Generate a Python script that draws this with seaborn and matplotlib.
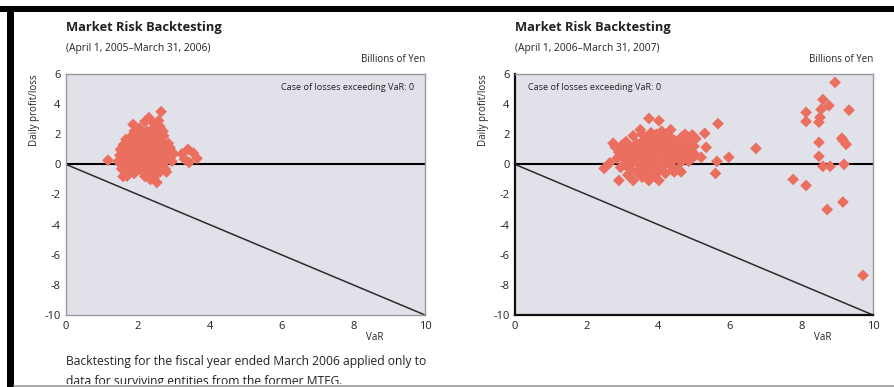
import matplotlib
matplotlib.use("Agg")
import matplotlib.pyplot as plt
from matplotlib.patches import Rectangle
from matplotlib.lines import Line2D
import pandas as pd
import seaborn as sns

# ---- FY2005 (April 1, 2005 - March 31, 2006): VaR vs. daily profit/loss ----
var_2005 = [
    1.17, 1.59, 1.70, 2.53, 2.65, 2.31, 1.87, 1.67, 3.23, 3.40, 3.65, 3.43, 3.30, 3.55,
    2.58, 2.62, 2.05, 2.20, 2.45,
    1.45, 1.50, 1.52, 1.55, 1.58, 1.60, 1.62, 1.65, 1.68, 1.70, 1.72, 1.75, 1.78, 1.80,
    1.82, 1.84, 1.86, 1.88, 1.90, 1.92, 1.94, 1.96, 1.98, 2.00, 2.00, 2.02, 2.04, 2.06,
    2.08, 2.10, 2.10, 2.12, 2.14, 2.16, 2.18, 2.20, 2.20, 2.22, 2.24, 2.26, 2.28, 2.30,
    2.30, 2.32, 2.34, 2.36, 2.38, 2.40, 2.40, 2.42, 2.44, 2.46, 2.48, 2.50, 2.50, 2.52,
    2.54, 2.56, 2.58, 2.60, 2.62, 2.64, 2.66, 2.68, 2.70, 2.72, 2.74, 2.76, 2.78, 2.80,
    2.85, 2.90, 2.95, 3.00,
    2.00, 2.10, 2.20, 2.30, 2.40, 2.20, 2.30, 2.10, 2.25, 2.35, 2.15, 2.05, 1.95, 2.45,
    2.55, 2.35, 2.15, 1.85, 1.75, 2.60, 2.70, 2.50, 2.40, 2.30, 2.20, 2.45, 1.65, 1.55,
    2.65, 2.75, 2.85, 2.80, 2.90, 2.05, 1.95, 2.50, 2.35, 2.60, 2.20, 2.40, 2.55, 2.70,
    1.90, 1.80, 1.70,
]
pl_2005 = [
    0.27, -0.80, -0.78, -1.20, 3.50, 3.10, 2.65, 1.66, 0.70, 1.00, 0.40, 0.13, 0.35, 0.75,
    2.90, 2.50, 2.40, 2.85, 2.70,
    0.2, 0.6, 1.0, -0.3, 0.4, 1.3, 0.0, 0.8, -0.5, 0.5, 1.1, 0.2, 1.6, -0.2,
    0.7, 1.9, 0.3, 1.2, -0.6, 0.9, 0.1, 1.5, 0.5, -0.1, 1.0, 2.1, 0.3, 0.7,
    1.3, -0.4, 0.0, 0.6, 1.7, 0.2, 0.9, 1.2, -0.8, 0.4, 0.8, 2.2, 0.1, 1.5,
    0.5, -0.3, 1.0, 0.3, 1.8, 0.6, -0.6, 1.3, 0.0, 0.9, 2.0, 0.4, 1.1, -0.2,
    0.7, 1.6, 0.2, 1.0, -0.5, 0.5, 1.4, 0.8, 0.1, 1.9, 0.6, -0.3, 1.2, 0.3,
    0.9, 0.5, 0.2, 0.7,
    0.5, 0.8, 0.6, 0.8, 0.9, 0.1, 0.2, 1.1, 1.4, 0.7, 0.4, 0.9, 0.6, 0.3,
    0.9, 1.2, 1.5, 0.5, 0.9, 0.6, 1.0, 1.4, 1.6, -0.1, -0.4, -0.9, 0.3, 0.9,
    0.2, 0.4, 1.4, -0.5, 1.1, 1.8, -0.4, -0.6, -1.0, 1.8, 2.0, 2.3, 2.4, 2.2,
    2.2, 1.4, 0.0,
]

# ---- FY2006 (April 1, 2006 - March 31, 2007) ----
var_2006 = [
    2.49, 2.65, 2.74, 2.80, 2.90, 3.30, 3.74, 4.02, 3.74, 4.02, 4.64, 4.94, 5.20, 5.30,
    5.34, 5.67, 5.64, 5.60, 5.97, 3.50, 4.35, 4.75, 4.95, 5.05, 4.85, 3.15, 3.55, 4.45,
    4.80,
    6.73, 8.94, 8.60, 8.77, 8.13, 8.55, 9.33, 8.13, 8.52, 8.49, 8.49, 9.13, 9.16, 9.25,
    8.49, 8.60, 8.80, 9.19, 7.77, 8.13, 9.16, 8.72, 9.72,
    3.00, 3.00, 3.05, 3.10, 3.10, 3.15, 3.20, 3.20, 3.25, 3.30, 3.30, 3.35, 3.40, 3.40,
    3.45, 3.50, 3.50, 3.55, 3.55, 3.60, 3.60, 3.65, 3.65, 3.70, 3.70, 3.75, 3.75, 3.80,
    3.80, 3.85, 3.85, 3.90, 3.90, 3.95, 3.95, 4.00, 4.00, 4.05, 4.05, 4.10, 4.10, 4.15,
    4.15, 4.20, 4.20, 4.25, 4.25, 4.30, 4.30, 4.35, 4.35, 4.40, 4.40, 4.45, 4.50, 4.50,
    4.55, 4.60, 4.60, 4.65, 4.70, 4.70, 4.75, 4.80, 4.85, 4.90, 5.00, 5.05, 2.85, 2.90,
    2.95, 3.00,
    3.60, 3.70, 3.80, 3.90, 4.00, 4.10, 4.20, 4.30, 3.50, 3.65, 3.75, 3.85, 3.95, 4.05,
    4.15, 4.25, 4.35, 4.45, 3.45, 3.35, 3.25, 3.90, 4.00, 4.10, 3.70, 3.80, 4.20, 4.30,
    4.40, 3.60, 3.40, 4.50, 4.60, 3.30, 4.20, 3.95, 3.85, 4.05, 3.75, 4.45, 3.15, 4.55,
    4.65, 4.00, 3.55, 3.20, 4.40, 4.80,
]
pl_2006 = [
    -0.27, 0.10, 1.40, 1.15, -1.07, -1.07, -1.07, -1.07, 3.05, 2.90, -0.50, 0.40, 0.47, 2.06,
    1.13, 2.70, 0.20, -0.60, 0.47, 2.30, 2.30, 2.00, 1.95, 1.70, 1.60, -0.70, -0.85, -0.50,
    0.80,
    1.06, 5.44, 4.30, 3.90, 3.45, 3.65, 3.60, 2.85, 3.12, 2.80, 1.46, 1.73, 1.60, 1.33,
    0.53, -0.13, -0.13, 0.00, -1.00, -1.40, -2.50, -3.00, -7.37,
    0.5, 1.0, 0.0, 1.5, 0.3, 0.8, -0.3, 1.2, 0.6, 1.9, 0.1, 0.9, -0.5, 1.4,
    0.4, 1.0, -0.1, 2.0, 0.7, 0.2, 1.3, -0.6, 0.9, 1.7, 0.4, 1.1, -0.2, 0.6,
    2.1, 0.1, 1.4, 0.8, -0.8, 1.0, 0.3, 1.8, 0.5, -0.3, 1.2, 0.7, 2.2, 0.0,
    1.5, 0.9, -0.6, 1.1, 0.4, 1.9, 0.6, -0.1, 1.3, 0.8, 0.2, 1.6, 0.5, 1.0,
    -0.3, 1.2, 0.7, 1.8, 0.3, 1.0, 0.6, 1.4, 0.2, 0.9, 1.2, 0.6, 0.4, 0.8,
    -0.2, 1.3,
    0.6, 0.9, 1.0, 0.5, 0.9, 1.0, 0.6, 0.9, 0.5, 1.2, 0.6, 0.7, 1.3, 0.7,
    0.9, 0.7, 1.0, 0.5, 0.8, 0.3, 0.9, 1.6, 0.1, -0.2, 0.1, -0.4, 1.3, 0.3,
    1.5, 1.6, 1.1, 1.3, 0.4, 0.6, 1.7, 2.0, -0.3, 1.5, 1.4, 0.9, 0.4, 0.9,
    0.2, -0.5, -0.4, 0.1, -0.4, 0.5,
]

x_ticks = [0, 2, 4, 6, 8, 10]
y_ticks = [6, 4, 2, 0, -2, -4, -6, -8, -10]

panels = [
    dict(var=var_2005, pl=pl_2005, period="(April 1, 2005\u2013March 31, 2006)",
         note_x=0.97, note_ha="right", dark=False),
    dict(var=var_2006, pl=pl_2006, period="(April 1, 2006\u2013March 31, 2007)",
         note_x=0.035, note_ha="left", dark=True),
]

sns.set_theme(style="white")
plt.rcParams["font.family"] = ["Open Sans", "DejaVu Sans"]
plt.rcParams["axes.unicode_minus"] = False

W, H = 894, 387
fig = plt.figure(figsize=(W / 100, H / 100), dpi=100)
fig.patch.set_facecolor("white")

def fx(px):
    return px / W

def fy(py):
    return 1 - py / H

axes_px = [(66, 425), (515, 873)]
top_px, bot_px = 74, 315
marker_color = "#EB6F5F"
bg_color = "#E1E1EA"

for (x0, x1), p in zip(axes_px, panels):
    ax = fig.add_axes([fx(x0), fy(bot_px), fx(x1 - x0), (bot_px - top_px) / H])
    ax.set_facecolor(bg_color)
    df = pd.DataFrame({"VaR": p["var"], "PL": p["pl"]})

    ax.axhline(0, color="black", lw=1.5, zorder=1)
    ax.plot([0, 10], [0, -10], color="#2b2b2b", lw=1.1, zorder=1)
    sns.scatterplot(data=df, x="VaR", y="PL", ax=ax, marker="D", s=36,
                    color=marker_color, edgecolor="none", linewidth=0, zorder=3)

    ax.set_xlim(0, 10)
    ax.set_ylim(-10, 6)
    ax.set_xticks(x_ticks)
    ax.set_yticks(y_ticks)
    ax.set_xlabel("")
    ax.set_ylabel("")
    ax.tick_params(axis="both", direction="in", length=3, width=0.8,
                   color="#555555", labelsize=8, labelcolor="#222222", pad=4)
    ax.tick_params(axis="x", pad=4)

    for side in ["top", "right"]:
        ax.spines[side].set_color("#9a9a9a")
        ax.spines[side].set_linewidth(1.0)
    for side in ["left", "bottom"]:
        ax.spines[side].set_color("#111111" if p["dark"] else "#9a9a9a")
        ax.spines[side].set_linewidth(1.6 if p["dark"] else 1.0)

    ax.text(p["note_x"], 0.945, "Case of losses exceeding VaR: 0",
            transform=ax.transAxes, ha=p["note_ha"], va="center",
            fontsize=6.6, color="#222222")

    # headings above each panel
    fig.text(fx(x0), fy(28), "Market Risk Backtesting", ha="left", va="center",
             fontsize=9.3, fontweight="bold", color="#222222")
    fig.text(fx(x0), fy(48), p["period"], ha="left", va="center",
             fontsize=7.4, color="#222222")
    fig.text(fx(x1), fy(60), "Billions of Yen", ha="right", va="center",
             fontsize=7, color="#222222")
    fig.text(fx(x0 - 32), fy(110), "Daily profit/loss", ha="center", va="center",
             rotation=90, fontsize=7, color="#222222")
    fig.text(fx(x1 - 50), fy(337), "VaR", ha="center", va="center",
             fontsize=7, color="#222222")

fig.text(fx(66), fy(361), "Backtesting for the fiscal year ended March 2006 applied only to",
         ha="left", va="center", fontsize=8.7, color="#222222")
fig.text(fx(66), fy(381), "data for surviving entities from the former MTFG.",
         ha="left", va="center", fontsize=8.7, color="#222222")

# page frame: black rules at top and left, grey rule at bottom
fig.add_artist(Rectangle((0, fy(12)), 1, fy(6) - fy(12), transform=fig.transFigure,
                         facecolor="black", edgecolor="none"))
fig.add_artist(Rectangle((fx(7), 0), fx(7), fy(6), transform=fig.transFigure,
                         facecolor="black", edgecolor="none"))
fig.add_artist(Rectangle((fx(14), 0), 1 - fx(14), fy(384), transform=fig.transFigure,
                         facecolor="white", edgecolor="none", zorder=5))
fig.add_artist(Line2D([fx(14), 1], [fy(385.5), fy(385.5)], transform=fig.transFigure,
                      color="#999999", lw=1.2, zorder=6))

fig.savefig("out.png", dpi=100)
